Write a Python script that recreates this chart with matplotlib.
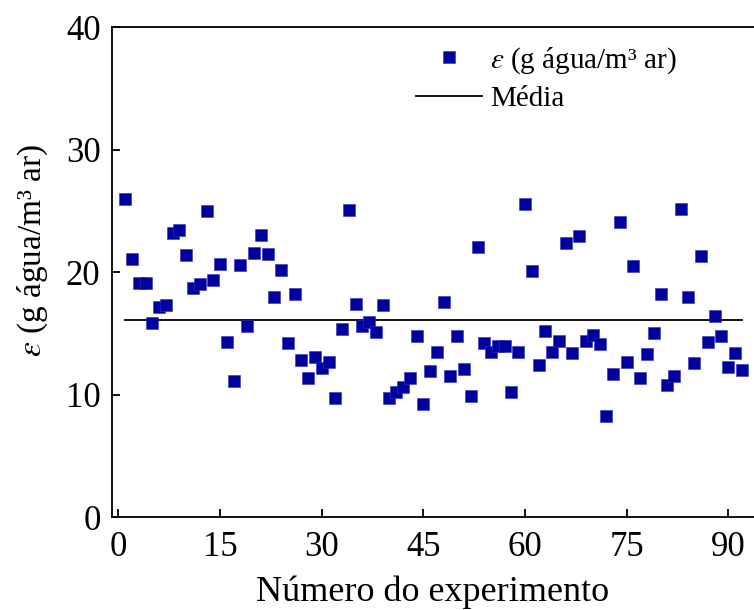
import numpy as np
import matplotlib
matplotlib.use('Agg')
import matplotlib.pyplot as plt

# dados
experimento = np.arange(1, 93)
umidade = [26.0, 21.1, 19.1, 19.1, 15.85, 17.15, 17.3, 23.2, 23.4, 21.4,
           18.7, 19.0, 25.0, 19.4, 20.7, 14.3, 11.15, 20.6, 15.6, 21.6,
           23.0, 21.5, 18.0, 20.2, 14.2, 18.2, 12.8, 11.35, 13.1, 12.2,
           12.65, 9.75, 15.4, 25.05, 17.4, 15.6, 15.9, 15.1, 17.35, 9.7,
           10.26, 10.64, 11.4, 14.77, 9.26, 11.9, 13.5, 17.56, 11.56, 14.77,
           12.13, 9.93, 22.04, 14.2, 13.5, 13.95, 13.95, 10.23, 13.46, 25.6,
           20.1, 12.46, 15.2, 13.46, 14.39, 22.4, 13.4, 22.94, 14.39, 14.85,
           14.14, 8.25, 11.67, 24.08, 12.68, 20.5, 11.4, 13.3, 15.04, 18.2,
           10.8, 11.56, 25.16, 18.0, 12.6, 21.3, 14.28, 16.4, 14.77, 12.3,
           13.4, 12.05]
media = np.mean(umidade)

plt.rcParams['font.family'] = ['Liberation Serif', 'DejaVu Serif']
plt.rcParams['mathtext.fontset'] = 'stix'

fig = plt.figure(figsize=(7.54, 6.10), dpi=100)
ax = fig.add_axes([111.7 / 754, (610 - 517.3) / 610, (754 - 111.7) / 754, (517.3 - 27) / 610])

ax.plot(experimento, umidade, 's', color='#00009c', markersize=8.2,
        markeredgecolor='#3030c0', markeredgewidth=0.4,
        label=r'$\varepsilon$ (g água/m³ ar)', zorder=3)
ax.plot([experimento[0], experimento[-1]], [media, media], color='black',
        linewidth=1.3, label='Média', zorder=2)

ax.set_xlim(-1, 93.8)
ax.set_ylim(0, 40)
ax.set_xticks([0, 15, 30, 45, 60, 75, 90])
ax.set_yticks([0, 10, 20, 30, 40])
ax.tick_params(direction='in', length=6, width=1.3, labelsize=25, pad=10)
ax.tick_params(axis='y', pad=8)
for s in ['left', 'bottom', 'top']:
    ax.spines[s].set_linewidth(1.3)
ax.spines['right'].set_visible(False)

ax.set_xlabel('Número do experimento', fontsize=26, labelpad=8)
ax.set_ylabel(r'$\varepsilon$ (g água/m³ ar)', fontsize=24)
ax.yaxis.set_label_coords(-0.096, 0.545)

ax.legend(loc='upper left', bbox_to_anchor=(0.474, 0.963), fontsize=21,
          frameon=False, numpoints=1, handlelength=2.26, handletextpad=0.27,
          labelspacing=0.35, borderaxespad=0, borderpad=0)

fig.savefig('out.png', dpi=100)
